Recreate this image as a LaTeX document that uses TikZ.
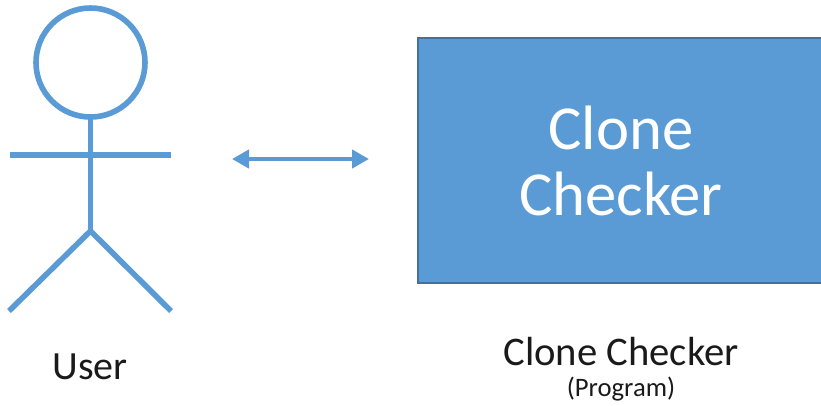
\documentclass[tikz,border=0pt]{standalone}
\usepackage{fontspec}
\setmainfont{Carlito}
\usetikzlibrary{calc,arrows.meta}
\definecolor{stroke}{HTML}{5B9BD5}
\definecolor{boxedge}{HTML}{41719C}
\definecolor{ink}{HTML}{1A1A1A}
\tikzset{
  figline/.style={draw=stroke, line width=4.2pt},
  arrowline/.style={draw=stroke, line width=3.4pt, {Triangle[length=12.75pt,width=13.5pt]}-{Triangle[length=12.75pt,width=13.5pt]}},
  boxfill/.style={fill=stroke, draw=boxedge, line width=1.4pt, minimum width=303pt, minimum height=183.75pt, inner sep=0pt},
  boxtext/.style={text=white, font=\fontsize{47}{50}\selectfont, align=center},
  lbl/.style={text=ink, font=\fontsize{30}{34}\selectfont},
  namelbl/.style={text=ink, font=\fontsize{30.5}{34}\selectfont},
  smalllbl/.style={text=ink, font=\fontsize{20}{22}\selectfont}
}
\begin{document}
\begin{tikzpicture}[x=0.75pt,y=-0.75pt]
  \useasboundingbox (0,0) rectangle (821,405);

  % stick figure
  \coordinate (neck) at (90.5,119);
  \coordinate (hip) at (90.5,231);
  \draw[figline] (90.5,62.5) circle (54.5);
  \draw[figline] (neck)--(hip);
  \draw[figline] (10,155)--(171,155);
  \draw[figline] (hip)--(9,311);
  \draw[figline] (hip)--(171,311);

  \node[boxfill, anchor=north west] (checker) at (417,37) {};
  \node[boxtext] (title) at (621,161) {Clone\\Checker};

  \coordinate (left) at (232,159);
  \coordinate (right) at (369,159);
  \draw[arrowline] (left)--(right);

  \node[lbl] (user) at (90,367) {User};
  \node[namelbl] (name) at (621,352) {Clone Checker};
  \node[smalllbl] (kind) at (621,389) {(Program)};
\end{tikzpicture}
\end{document}
